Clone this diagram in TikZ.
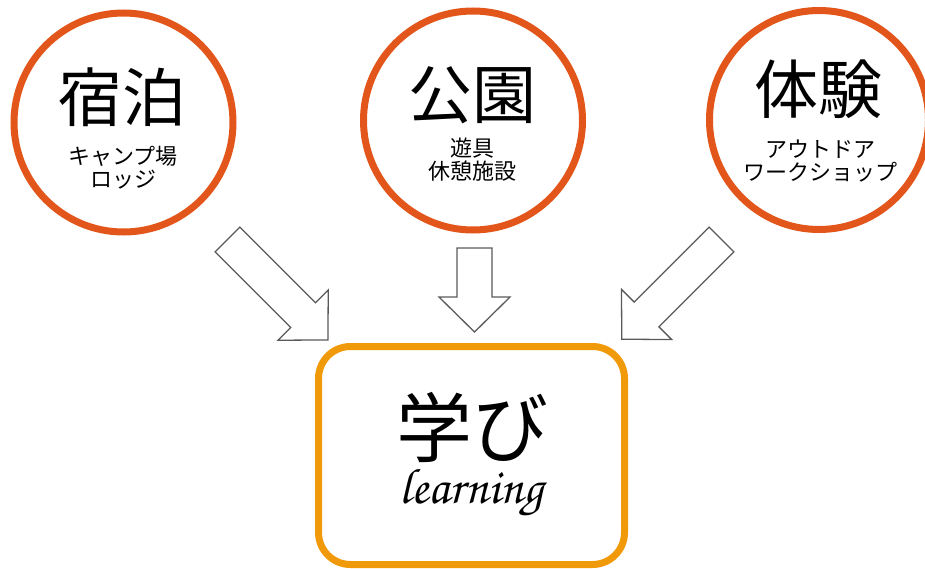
\documentclass[tikz,border=0pt]{standalone}
\usepackage{fontspec}
\newfontfamily\jpfont{Noto Sans CJK JP}
\newfontfamily\learnfont{TeX Gyre Chorus}

\definecolor{ringorange}{HTML}{E3561B}
\definecolor{boxorange}{HTML}{F09A0A}
\definecolor{arrowgray}{HTML}{5A5A5A}

\begin{document}
\begin{tikzpicture}[x=1pt,y=-1pt,
    ring/.style={circle,draw=ringorange,line width=7pt,minimum size=219pt,inner sep=0pt},
    goalbox/.style={rectangle,rounded corners=32pt,draw=boxorange,line width=7pt,
        minimum width=306pt,minimum height=218pt,inner sep=0pt},
    title/.style={font=\jpfont\fontsize{64}{64}\selectfont,inner sep=0pt},
    sub/.style={font=\jpfont\fontsize{22}{23}\selectfont,align=center,inner sep=0pt},
    blockarrow/.style={draw=arrowgray,fill=white,line width=1.3pt,line join=miter}]
                \useasboundingbox (0,0) rectangle (925,569);

                % the three circles
                \node[ring] (stay) at (123.5,122.5) {};
                \node[ring] (park) at (473,120.5) {};
                \node[ring] (exper) at (819,120) {};

                \node[title] (stay title) at (122.5,97) {宿泊};
                \node[sub] (stay sub) at (123,168) {キャンプ場\\ロッジ};

                \node[title] (park title) at (472,95) {公園};
                \node[sub] (park sub) at (472.5,160) {遊具\\休憩施設};

                \node[title] (exper title) at (818,89) {体験};
                \node[sub] (exper sub) at (820,161) {アウトドア\\ワークショップ};

                % block arrows
                \foreach \tx/\ty/\ang/\len in {227.5/239.5/-45/142, 474.5/248/-90/84, 721.5/239.5/-135/141}{
                    \draw[blockarrow,shift={(\tx,\ty)},rotate=\ang]
                        (0,-17.5) -- (\len-35,-17.5) -- (\len-35,-35.5) -- (\len,0)
                        -- (\len-35,35.5) -- (\len-35,17.5) -- (0,17.5) -- cycle;
                }

                % the goal
                \node[goalbox] (learn) at (471.5,455.5) {};
                \node[font=\jpfont\fontsize{76}{76}\selectfont,inner sep=0pt] (learn title) at (472.5,427.5) {学び};
                \node[font=\learnfont\fontsize{50}{50}\selectfont,inner sep=0pt,anchor=base] (learn sub) at (471.5,503) {learning};
            \end{tikzpicture}
\end{document}
